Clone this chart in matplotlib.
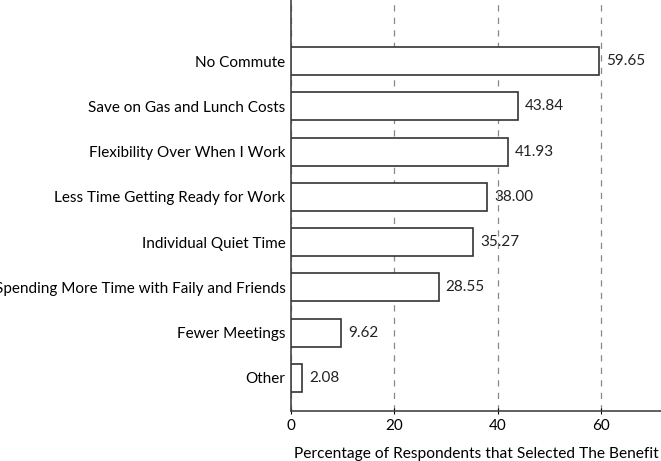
import numpy as np
import matplotlib.pyplot as plt

benefits = ["No Commute", "Save on Gas and Lunch Costs", "Flexibility Over When I Work",
            "Less Time Getting Ready for Work", "Individual Quiet Time",
            "Spending More Time with Faily and Friends", "Fewer Meetings", "Other"]
percent = [59.65, 43.84, 41.93, 38.00, 35.27, 28.55, 9.62, 2.08]

plt.rcParams['font.family'] = ['Lato', 'DejaVu Sans']

fig = plt.figure(figsize=(6.61, 4.61), dpi=100)
ax = fig.add_axes([291 / 661, 50 / 461, 370 / 661, 411 / 461])

pos = np.arange(len(benefits))
ax.barh(pos, percent, height=0.62, color="white", edgecolor="#333333", linewidth=1.2, zorder=3)
for p, v in zip(pos, percent):
    ax.text(v + 1.4, p, "%.2f" % v, va="center", ha="left", fontsize=11, color="#222222", zorder=4)

ax.set_xlim(0, 71.6)
ax.set_ylim(7.73, -1.35)
ax.set_xticks([0, 20, 40, 60])
ax.set_yticks(pos)
ax.set_yticklabels(benefits, fontsize=11)
ax.tick_params(axis="y", length=0, pad=4)
ax.tick_params(axis="x", labelsize=11, length=4, direction="inout", pad=4)
ax.xaxis.grid(True, linestyle=(0, (5, 5)), color="#888888", linewidth=0.9, zorder=0)
ax.set_xlabel("Percentage of Respondents that Selected The Benefit", fontsize=11.2, labelpad=10)
for s in ["top", "right"]:
    ax.spines[s].set_visible(False)
for s in ["left", "bottom"]:
    ax.spines[s].set_color("#444444")
    ax.spines[s].set_linewidth(1.2)

fig.savefig("out.png", dpi=100)
